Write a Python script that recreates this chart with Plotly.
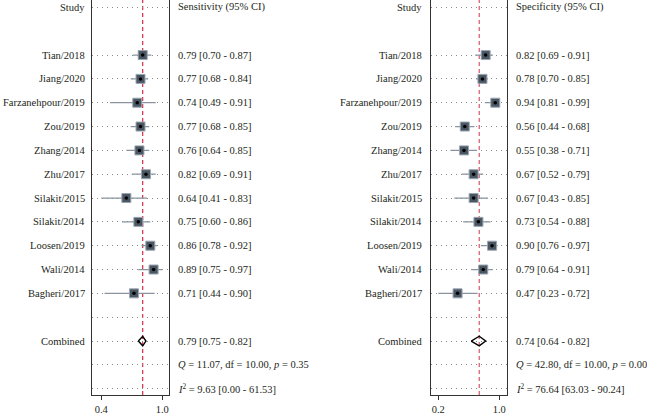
import plotly.graph_objects as go

studies = ["Tian/2018", "Jiang/2020", "Farzanehpour/2019", "Zou/2019", "Zhang/2014",
           "Zhu/2017", "Silakit/2015", "Silakit/2014", "Loosen/2019", "Wali/2014", "Bagheri/2017"]

sens = [0.79, 0.77, 0.74, 0.77, 0.76, 0.82, 0.64, 0.75, 0.86, 0.89, 0.71]
sens_lo = [0.70, 0.68, 0.49, 0.68, 0.64, 0.69, 0.41, 0.60, 0.78, 0.75, 0.44]
sens_hi = [0.87, 0.84, 0.91, 0.85, 0.85, 0.91, 0.83, 0.86, 0.92, 0.97, 0.90]

spec = [0.82, 0.78, 0.94, 0.56, 0.55, 0.67, 0.67, 0.73, 0.90, 0.79, 0.47]
spec_lo = [0.69, 0.70, 0.81, 0.44, 0.38, 0.52, 0.43, 0.54, 0.76, 0.64, 0.23]
spec_hi = [0.91, 0.85, 0.99, 0.68, 0.71, 0.79, 0.85, 0.88, 0.97, 0.91, 0.72]

sens_pooled = [0.79, 0.75, 0.82]
spec_pooled = [0.74, 0.64, 0.82]

sens_het = {"Q": 11.07, "df": 10.00, "p": 0.35, "I2": 9.63, "I2_lo": 0.00, "I2_hi": 61.53}
spec_het = {"Q": 42.80, "df": 10.00, "p": 0.00, "I2": 76.64, "I2_lo": 63.03, "I2_hi": 90.24}

W, H = 647, 415
FONT = "Liberation Serif"
FS = 10.5
TXT = "#231f20"

study_rows = list(range(2, 2 + len(studies)))
row_pool = 14
row_q = 15
row_i2 = 16
grid_rows = [0] + study_rows + [13, 14, 15, 16]

fig = go.Figure()


def add_panel(xa, ya, est, lo, hi, pooled, red):
    fig.add_trace(go.Scatter(
        x=est, y=study_rows, mode="markers", xaxis=xa, yaxis=ya,
        marker=dict(symbol="square", size=9, color="#4b5663",
                    line=dict(color="#9aa6b2", width=1)),
        error_x=dict(type="data", symmetric=False,
                     array=[h - e for h, e in zip(hi, est)],
                     arrayminus=[e - l for e, l in zip(est, lo)],
                     color="#8a949e", thickness=1.2, width=0),
        hoverinfo="skip", showlegend=False))
    fig.add_trace(go.Scatter(
        x=est, y=study_rows, mode="markers", xaxis=xa, yaxis=ya,
        marker=dict(symbol="circle", size=3.5, color="black"),
        hoverinfo="skip", showlegend=False))
    p, plo, phi = pooled
    fig.add_trace(go.Scatter(
        x=[plo, p, phi, p, plo],
        y=[row_pool, row_pool - 0.2, row_pool, row_pool + 0.2, row_pool],
        mode="lines", xaxis=xa, yaxis=ya,
        line=dict(color="black", width=1.4),
        hoverinfo="skip", showlegend=False))
    fig.add_shape(type="line", xref=xa, yref="paper", x0=p, x1=p,
                  y0=17 / H, y1=1, layer="between",
                  line=dict(color=red, width=1.2, dash="4px,3px"))


add_panel("x", "y", sens, sens_lo, sens_hi, sens_pooled, "#d42a45")
add_panel("x2", "y2", spec, spec_lo, spec_hi, spec_pooled, "#d5546b")


def xaxis_cfg(px0, px1, lo, hi, t0px, t1px):
    scale = (t1px - t0px) / (hi - lo)
    rmin = lo - (t0px - px0) / scale
    rmax = hi + (px1 - t1px) / scale
    return dict(domain=[px0 / W, px1 / W], range=[rmin, rmax],
                tickvals=[lo, hi], ticktext=["%.1f" % lo, "%.1f" % hi],
                ticks="outside", ticklen=4, tickwidth=1, tickcolor="#333",
                showline=True, linecolor="#333", linewidth=1.3,
                showgrid=False, zeroline=False,
                tickfont=dict(family=FONT, size=FS, color=TXT))


def yaxis_cfg(anchor):
    return dict(domain=[17 / H, 1], range=[16.27, -0.31], anchor=anchor,
                tickvals=grid_rows, showticklabels=False, ticks="",
                showgrid=True, gridcolor="#8c8c8c", gridwidth=1, griddash="1px,4px",
                showline=True, mirror=True, linecolor="#333", linewidth=1.3,
                zeroline=False)


fig.update_layout(
    width=W, height=H, margin=dict(l=0, r=0, t=0, b=0),
    paper_bgcolor="white", plot_bgcolor="white",
    xaxis=xaxis_cfg(92.3, 168.7, min(sens_lo), max(sens_hi), 101.3, 162.3),
    xaxis2=xaxis_cfg(431, 507.3, min(spec_lo), max(spec_hi), 438.3, 499.3),
    yaxis=yaxis_cfg("x"),
    yaxis2=yaxis_cfg("x2"),
    font=dict(family=FONT, size=FS, color=TXT),
)

ann = []


def text(xpx, row, s, anchor):
    ann.append(dict(x=xpx / W, xref="paper", y=row, yref="y", text=s,
                    showarrow=False, xanchor=anchor, yanchor="middle",
                    font=dict(family=FONT, size=FS, color=TXT)))


def ci(e, l, h):
    return "%.2f [%.2f - %.2f]" % (e, l, h)


for lab_px, val_px, title, est, lo, hi, pooled, het in [
    (87, 176, "Sensitivity (95% CI)", sens, sens_lo, sens_hi, sens_pooled, sens_het),
    (424, 514, "Specificity (95% CI)", spec, spec_lo, spec_hi, spec_pooled, spec_het),
]:
    text(lab_px, 0, "Study", "right")
    text(val_px, 0, title, "left")
    for r, s, e, l, h in zip(study_rows, studies, est, lo, hi):
        text(lab_px, r, s, "right")
        text(val_px, r, ci(e, l, h), "left")
    text(lab_px, row_pool, "Combined", "right")
    text(val_px, row_pool, ci(*pooled), "left")
    text(val_px, row_q, "<i>Q</i> = %.2f, df = %.2f, <i>p</i> = %.2f" % (het["Q"], het["df"], het["p"]), "left")
    text(val_px, row_i2, "<i>I</i><sup>2</sup> = %.2f [%.2f - %.2f]" % (het["I2"], het["I2_lo"], het["I2_hi"]), "left")

fig.update_layout(annotations=ann)
fig.write_html("out.html", config={"displayModeBar": False},
               post_script="document.body.style.margin='0';")
